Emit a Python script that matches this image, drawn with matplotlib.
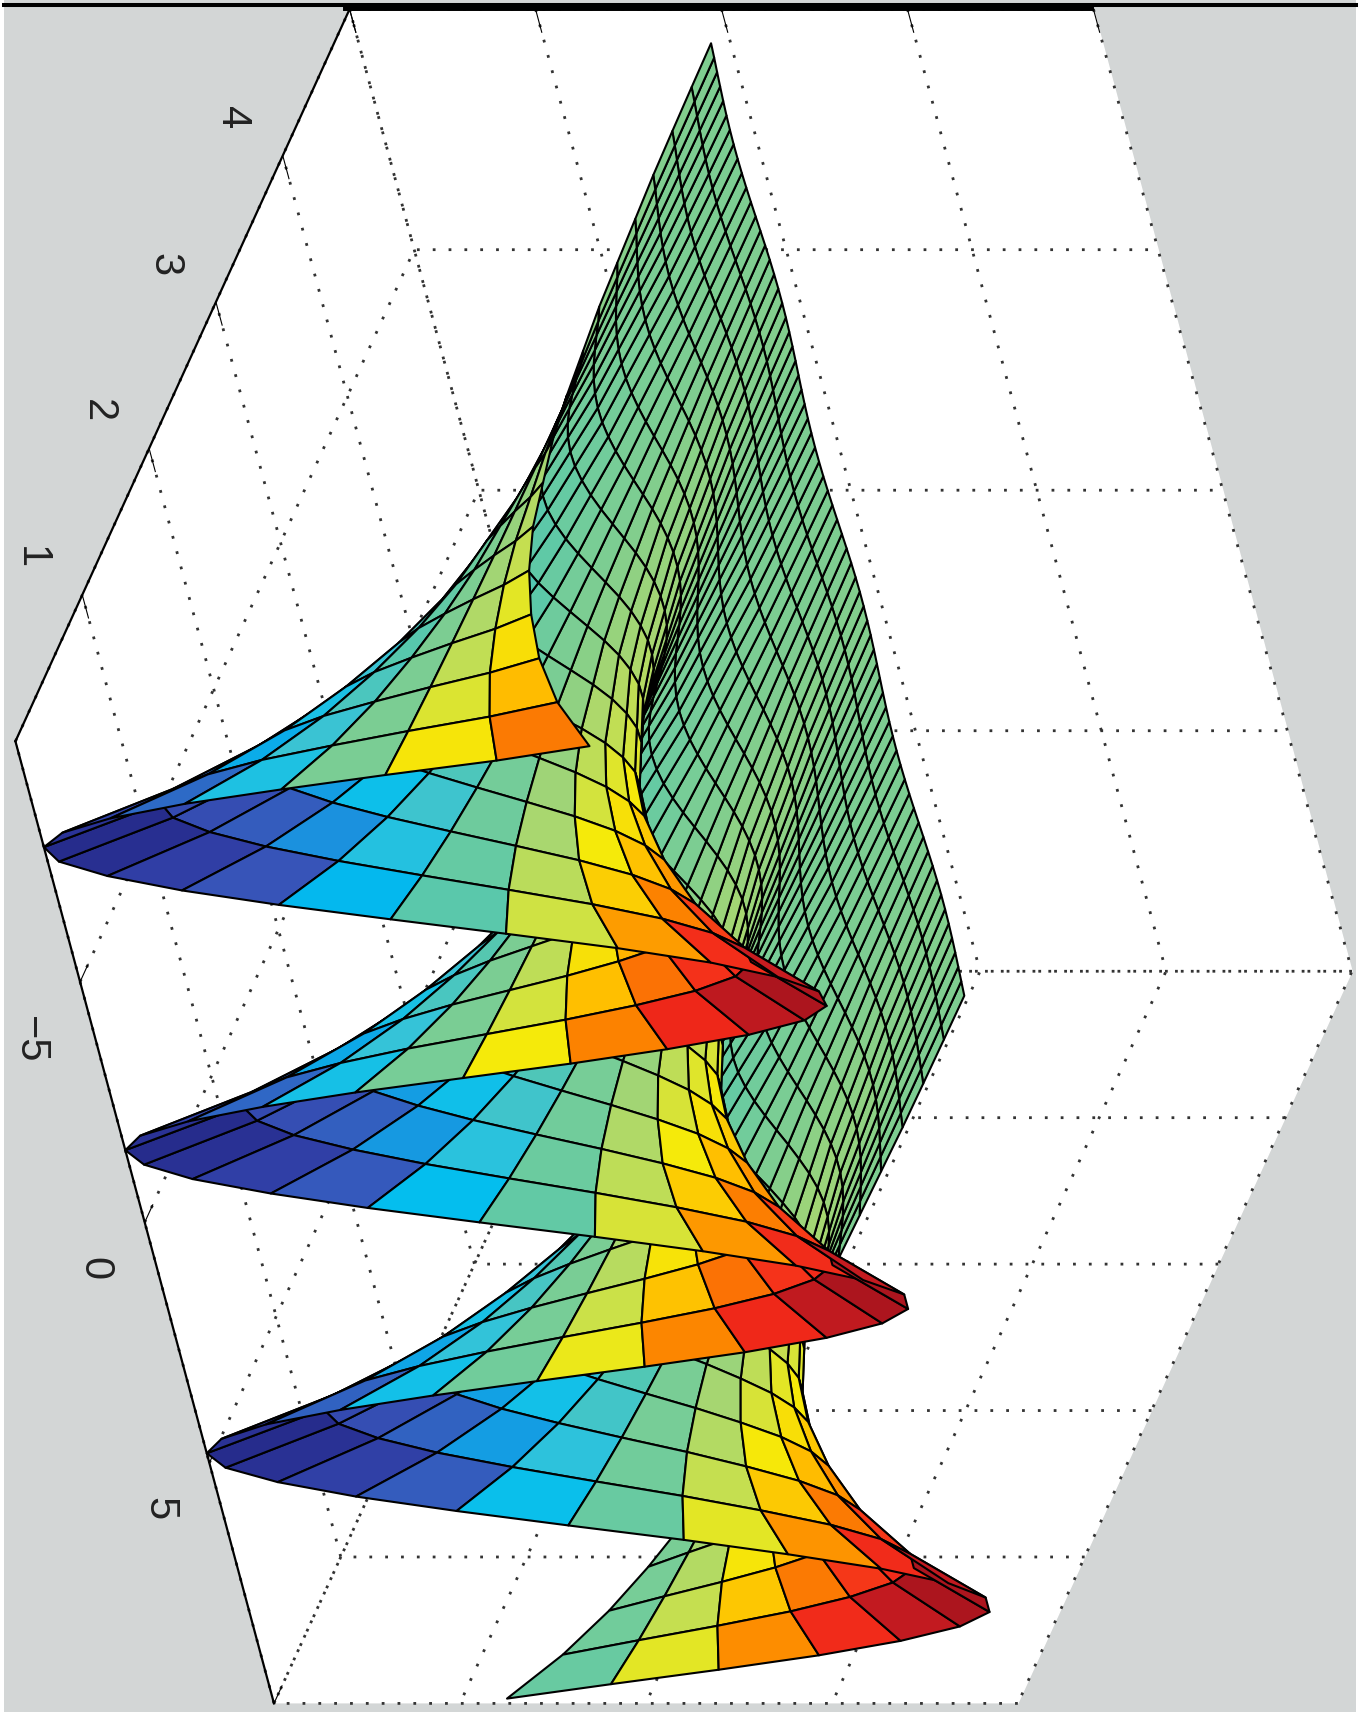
import numpy as np
import matplotlib
matplotlib.use('Agg')
import matplotlib.pyplot as plt
from matplotlib.colors import LinearSegmentedColormap
from matplotlib.lines import Line2D
from matplotlib.patches import Rectangle
from mpl_toolkits.mplot3d import Axes3D  # noqa

# mesh positions read along the axes
x_levels = [-9.9, -9.6, -9.3, -9.0, -8.7, -8.4, -8.1, -7.8, -7.5, -7.2,
            -6.9, -6.6, -6.3, -6.0, -5.7, -5.4, -5.1, -4.8, -4.5, -4.2,
            -3.9, -3.6, -3.3, -3.0, -2.7, -2.4, -2.1, -1.8, -1.5, -1.2,
            -0.9, -0.6, -0.3, 0.0, 0.3, 0.6, 0.9, 1.2, 1.5, 1.8,
            2.1, 2.4, 2.7, 3.0, 3.3, 3.6, 3.9, 4.2, 4.5, 4.8,
            5.1, 5.4, 5.7, 6.0, 6.3, 6.6, 6.9, 7.2, 7.5, 7.8,
            8.1, 8.4, 8.7, 9.0, 9.3, 9.6, 9.9]
y_levels = [0.0, 0.3, 0.6, 0.9, 1.2, 1.5, 1.8, 2.1, 2.4, 2.7,
            3.0, 3.3, 3.6, 3.9, 4.2, 4.5, 4.8]

# height of the front edge (y=0) at each x level
front_edge = [0.54, 0.28, -0.03, -0.32, -0.59, -0.80, -0.94, -1.00, -0.97, -0.85,
              -0.66, -0.41, -0.12, 0.18, 0.47, 0.71, 0.88, 0.98, 0.99, 0.92,
              0.76, 0.53, 0.26, -0.04, -0.34, -0.60, -0.81, -0.95, -1.00, -0.96,
              -0.84, -0.64, -0.39, -0.10, 0.20, 0.48, 0.72, 0.89, 0.99, 0.99,
              0.91, 0.75, 0.52, 0.24, -0.06, -0.35, -0.61, -0.82, -0.95, -1.00,
              -0.96, -0.83, -0.63, -0.37, -0.08, 0.22, 0.49, 0.73, 0.90, 0.99,
              0.99, 0.90, 0.73, 0.50, 0.22, -0.08, -0.37]
# how much of that height is left at each y level
row_scale = [1.00, 0.74, 0.55, 0.41, 0.30, 0.22, 0.17, 0.12, 0.09, 0.07,
             0.05, 0.04, 0.03, 0.02, 0.015, 0.011, 0.008]

x_ticks = [-10, -5, 0, 5, 10]
x_tick_labels = ['', '\u22125', '0', '5', '']
y_ticks = [0, 1, 2, 3, 4, 5]
y_tick_labels = ['', '1', '2', '3', '4', '']
z_ticks = [-1, -0.5, 0, 0.5, 1]

# colour seen at each height
color_heights = [-1.0, -0.9, -0.65, -0.5, -0.4, -0.25, -0.12, -0.04, 0.0, 0.1,
                 0.18, 0.26, 0.40, 0.53, 0.68, 0.80, 0.88, 1.0]
color_values = ['#262c8c', '#2e38a0', '#3755b9', '#1e8cdc', '#00bef0', '#37c3d7',
                '#5ac8aa', '#78cd96', '#7dcd91', '#aad76e', '#cde146', '#f5eb0a',
                '#ffbe00', '#fc8200', '#f5321a', '#eb2319', '#c81c20', '#aa141e']
surf_cmap = LinearSegmentedColormap.from_list(
    'lit_jet', [((h + 1) / 2, c) for h, c in zip(color_heights, color_values)])

W, H = 1364, 1712
plt.rcParams['font.family'] = ['Liberation Sans', 'DejaVu Sans']
plt.rcParams['grid.linestyle'] = (0, (1, 4.7))
plt.rcParams['grid.linewidth'] = 2.0
plt.rcParams['grid.color'] = '#333333'

fig = plt.figure(figsize=(W / 100, H / 100), dpi=100, facecolor='white')
fig.add_artist(Rectangle((4 / W, 0), 1352 / W, 1, transform=fig.transFigure,
                         facecolor='#d3d6d6', edgecolor='none', zorder=-5))

# big square axes around the box centre, the figure crops it
side = 1828.5
cx, cy = 659, 881
ax = fig.add_axes([(cx - side / 2) / W, (H - cy - side / 2) / H, side / W, side / H],
                  projection='3d', proj_type='ortho')
ax.patch.set_alpha(0)
ax.view_init(elev=20.5, azim=-127.5, roll=-90)
ax.set_box_aspect((1214, 1204, 795))

X, Y = np.meshgrid(x_levels, y_levels)
Z = np.outer(row_scale, front_edge)
colors = surf_cmap((Z + 1) / 2)
ax.plot_surface(X, Y, Z, facecolors=colors, rstride=1, cstride=1, shade=False,
                edgecolor='black', linewidth=1.5, antialiased=True)

ax.set_xlim(-10, 10, view_margin=0)
ax.set_ylim(0, 5, view_margin=0)
ax.set_zlim(-1, 1, view_margin=0)
ax.set_xticks(x_ticks)
ax.set_xticklabels(x_tick_labels, rotation=-90, fontsize=30, color='#222222')
ax.set_yticks(y_ticks)
ax.set_yticklabels(y_tick_labels, rotation=-90, fontsize=30, color='#222222')
ax.set_zticks(z_ticks)
ax.set_zticklabels([])
ax.tick_params(axis='x', pad=24)
ax.tick_params(axis='y', pad=27)
for a in (ax.xaxis, ax.yaxis, ax.zaxis):
    a.set_pane_color((1, 1, 1, 1))
    a.pane.set_edgecolor('white')
    a.line.set_color('black')
    a.line.set_linewidth(1.6)
    a._axinfo['tick'].update(inward_factor=0, outward_factor=0.3)

# cropped top edge of the picture
fig.add_artist(Line2D([4 / W, 1356 / W], [1 - 5 / H, 1 - 5 / H], color='black', lw=2.9,
                      transform=fig.transFigure))
fig.add_artist(Line2D([346 / W, 1090 / W], [1 - 6.5 / H, 1 - 6.5 / H], color='black', lw=5,
                      transform=fig.transFigure))

fig.savefig('out.png', dpi=100, facecolor='white')
